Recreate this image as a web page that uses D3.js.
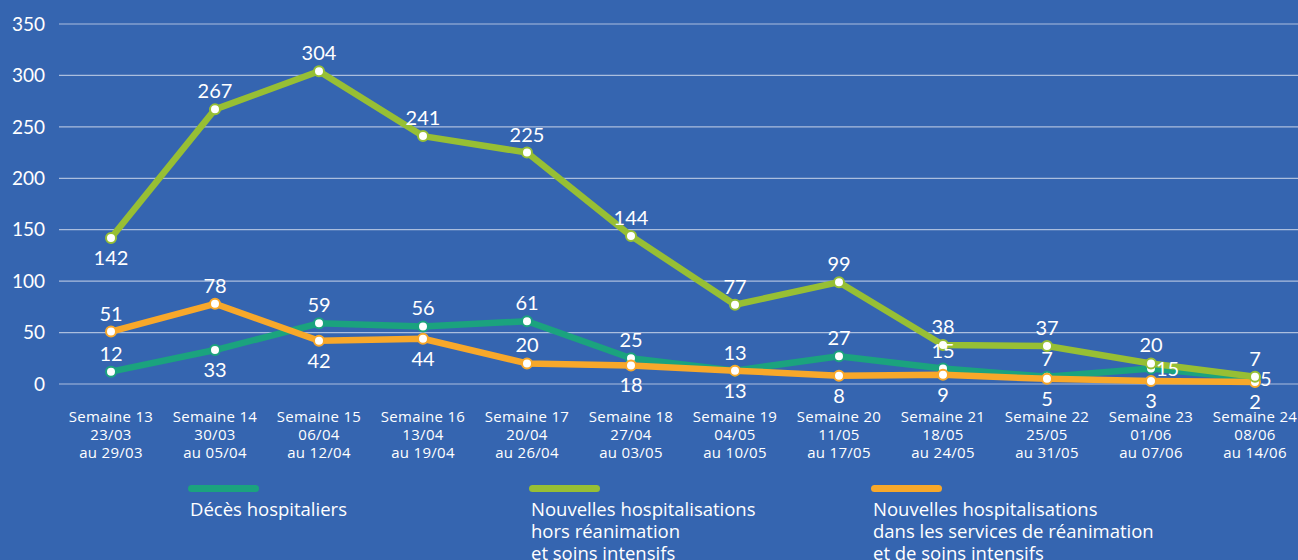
<!DOCTYPE html>
<html>
<head>
<meta charset="utf-8">
<script src="https://cdn.jsdelivr.net/npm/d3@7"></script>
<style>
  body { margin: 0; background: #3565b0; }
  svg { display: block; }
</style>
</head>
<body>
<div id="chart"></div>
<script>
var weeks = ["Semaine 13", "Semaine 14", "Semaine 15", "Semaine 16", "Semaine 17", "Semaine 18",
  "Semaine 19", "Semaine 20", "Semaine 21", "Semaine 22", "Semaine 23", "Semaine 24"];
var dateFrom = ["23/03", "30/03", "06/04", "13/04", "20/04", "27/04", "04/05", "11/05", "18/05", "25/05", "01/06", "08/06"];
var dateTo = ["au 29/03", "au 05/04", "au 12/04", "au 19/04", "au 26/04", "au 03/05", "au 10/05", "au 17/05", "au 24/05", "au 31/05", "au 07/06", "au 14/06"];

var deces = [12, 33, 59, 56, 61, 25, 13, 27, 15, 7, 15, 5];
var horsRea = [142, 267, 304, 241, 225, 144, 77, 99, 38, 37, 20, 7];
var rea = [51, 78, 42, 44, 20, 18, 13, 8, 9, 5, 3, 2];

// label placement per point: "t" above, "b" below, "r" right
var decesPos = ["t", "b", "t", "t", "t", "t", "t", "t", "t", "t", "r", "r"];
var horsReaPos = ["b", "t", "t", "t", "t", "t", "t", "t", "t", "t", "t", "t"];
var reaPos = ["t", "t", "b", "b", "t", "b", "b", "b", "b", "b", "b", "b"];

var yTicks = [0, 50, 100, 150, 200, 250, 300, 350];

var ColorDeces = "#1ba37e";
var ColorHors = "#97bf34";
var ColorRea = "#f8a82a";

var width = 1298, height = 560;

var svg = d3.select("#chart").append("svg")
  .attr("width", width)
  .attr("height", height);

svg.append("rect").attr("width", width).attr("height", height).attr("fill", "#3565b0");

var x = d3.scalePoint()
  .domain(weeks)
  .range([111, 1255]);

var y = d3.scaleLinear()
  .domain([0, 350])
  .range([384, 24]);

// grid
svg.append("g").selectAll("line")
  .data(yTicks)
  .enter().append("line")
  .attr("x1", 59).attr("x2", width)
  .attr("y1", function(d) { return y(d); })
  .attr("y2", function(d) { return y(d); })
  .attr("stroke", "#c9d4ea")
  .attr("stroke-opacity", 0.8)
  .attr("stroke-width", 1.2);

// y axis labels
svg.append("g").selectAll("text")
  .data(yTicks)
  .enter().append("text")
  .attr("x", 45)
  .attr("y", function(d) { return y(d); })
  .attr("dy", "0.35em")
  .attr("text-anchor", "end")
  .attr("fill", "#fff")
  .style("font-family", "Lato, 'Open Sans', sans-serif")
  .style("font-size", "19px")
  .text(function(d) { return d; });

// x labels
var xl = svg.append("g").selectAll("text")
  .data(weeks)
  .enter().append("text")
  .attr("text-anchor", "middle")
  .attr("fill", "#fff")
  .style("font-family", "'Open Sans', sans-serif")
  .style("font-size", "15px")
  .style("letter-spacing", "0.3px");
xl.append("tspan").attr("x", function(d) { return x(d); }).attr("y", 422).text(function(d) { return d; });
xl.append("tspan").attr("x", function(d) { return x(d); }).attr("y", 440).text(function(d, i) { return dateFrom[i]; });
xl.append("tspan").attr("x", function(d) { return x(d); }).attr("y", 458).text(function(d, i) { return dateTo[i]; });

var line = d3.line()
  .x(function(d, i) { return x(weeks[i]); })
  .y(function(d) { return y(d); });

var series = [
  { values: deces, color: ColorDeces, pos: decesPos },
  { values: rea, color: ColorRea, pos: reaPos },
  { values: horsRea, color: ColorHors, pos: horsReaPos }
];

series.forEach(function(s) {
  svg.append("path")
    .datum(s.values)
    .attr("d", line)
    .attr("fill", "none")
    .attr("stroke", s.color)
    .attr("stroke-width", 6.5)
    .attr("stroke-linejoin", "round");

  svg.append("g").selectAll("circle")
    .data(s.values)
    .enter().append("circle")
    .attr("cx", function(d, i) { return x(weeks[i]); })
    .attr("cy", function(d) { return y(d); })
    .attr("r", 5)
    .attr("fill", "#fff")
    .attr("stroke", s.color)
    .attr("stroke-width", 2);
});

series.forEach(function(s) {
  svg.append("g").selectAll("text")
    .data(s.values)
    .enter().append("text")
    .attr("x", function(d, i) { return s.pos[i] === "r" ? x(weeks[i]) + 5 : x(weeks[i]); })
    .attr("y", function(d, i) {
      if (s.pos[i] === "t") return y(d) - 11;
      if (s.pos[i] === "b") return y(d) + 27;
      return y(d) + 7;
    })
    .attr("text-anchor", function(d, i) { return s.pos[i] === "r" ? "start" : "middle"; })
    .attr("fill", "#fff")
    .style("font-family", "Lato, 'Open Sans', sans-serif")
    .style("font-size", "20px")
    .text(function(d) { return d; });
});

// legend
var legend = [
  { color: ColorDeces, x: 188, lines: ["Décès hospitaliers"] },
  { color: ColorHors, x: 529, lines: ["Nouvelles hospitalisations", "hors réanimation", "et soins intensifs"] },
  { color: ColorRea, x: 871, lines: ["Nouvelles hospitalisations", "dans les services de réanimation", "et de soins intensifs"] }
];

var lg = svg.append("g").selectAll("g")
  .data(legend)
  .enter().append("g");

lg.append("rect")
  .attr("x", function(d) { return d.x; })
  .attr("y", 485)
  .attr("width", 71)
  .attr("height", 7)
  .attr("rx", 3.5)
  .attr("fill", function(d) { return d.color; });

lg.append("text")
  .attr("fill", "#fff")
  .style("font-family", "'Open Sans', sans-serif")
  .style("font-size", "18.5px")
  .selectAll("tspan")
  .data(function(d) { return d.lines.map(function(t, i) { return { t: t, i: i, x: d.x }; }); })
  .enter().append("tspan")
  .attr("x", function(d) { return d.x + 2; })
  .attr("y", function(d) { return 516 + d.i * 22; })
  .text(function(d) { return d.t; });
</script>
</body>
</html>
